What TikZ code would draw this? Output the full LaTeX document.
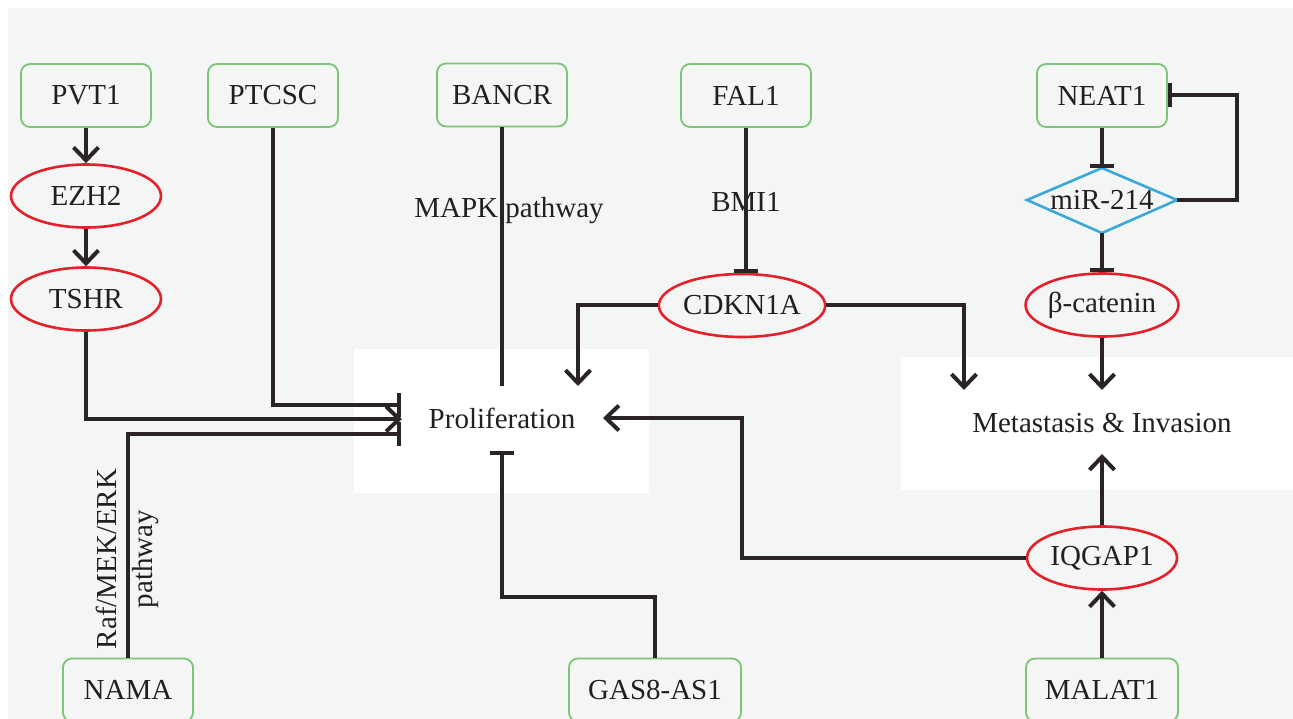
\documentclass[tikz,border=0pt]{standalone}
\usepackage{fontspec}
\setmainfont{Liberation Serif}
\usetikzlibrary{arrows.meta,shapes.geometric}
\definecolor{bgg}{HTML}{F4F6F5}
\definecolor{gbox}{HTML}{7CC576}
\definecolor{rell}{HTML}{E4202A}
\definecolor{bdia}{HTML}{3BA8DC}
\definecolor{ink}{HTML}{2A2425}
\definecolor{txt}{HTML}{231F20}
\begin{document}
\begin{tikzpicture}[x=1pt,y=-1pt,
 every node/.style={font=\fontsize{29}{36}\selectfont, text=txt},
 lncbox/.style={draw=gbox, line width=1.8pt, rounded corners=9pt, minimum width=130pt, minimum height=63pt, inner sep=0pt},
 gene/.style={draw=rell, ellipse, line width=2.6pt, minimum width=150pt, minimum height=63pt, inner sep=0pt},
 conn/.style={draw=ink, line width=4pt},
 act/.style={conn, -{Straight Barb[length=13pt,width=25pt]}},
 inh/.style={conn, -{Bar[width=24pt]}},
]
\useasboundingbox (0,0) rectangle (1293,719);
\fill[white] (0,0) rectangle (1293,719);
\fill[bgg] (8,8) rectangle (1293,719);
\fill[white] (354,349) rectangle (649,493);
\fill[white] (901,357) rectangle (1293,490);

% lncRNA boxes
\node[lncbox] (pvt1) at (86,95.5) {PVT1};
\node[lncbox] (ptcsc) at (273,95.5) {PTCSC};
\node[lncbox] (bancr) at (502,95) {BANCR};
\node[lncbox] (fal1) at (746,95.5) {FAL1};
\node[lncbox] (neat1) at (1102,95.5) {NEAT1};
\node[lncbox] (nama) at (128,690) {NAMA};
\node[lncbox, minimum width=172pt] (gas) at (655,690) {GAS8-AS1};
\node[lncbox, minimum width=152pt] (malat) at (1102,690) {MALAT1};

% genes
\node[gene] (ezh2) at (86,196) {EZH2};
\node[gene] (tshr) at (86,299) {TSHR};
\node[gene] (cdkn) at (742,305.5) {CDKN1A};
\node[gene] (beta) at (1102,305) {β-catenin};
\node[gene] (iqgap) at (1102,558) {IQGAP1};

% miR-214 diamond
\coordinate (mirW) at (1027,200);
\coordinate (mirN) at (1102,168);
\coordinate (mirE) at (1177,200);
\coordinate (mirS) at (1102,233);
\draw[bdia, line width=2.6pt] (mirW) -- (mirN) -- (mirE) -- (mirS) -- cycle;
\node (mir) at (1102,200) {miR-214};

% outcomes
\node (prolif) at (502,418) {Proliferation};
\node (meta) at (1102,423) {Metastasis \& Invasion};

% labels
\node (mapk) at (509,211) {MAPK pathway};
\node (bmi) at (746,202) {BMI1};
\node[rotate=90, align=center, font=\fontsize{29}{36}\selectfont] (raf) at (127,559) {Raf/MEK/ERK\\pathway};

% anchor points
\coordinate (pin1) at (401,405);
\coordinate (pin2) at (402,419);
\coordinate (pin3) at (401,434);
\coordinate (ptop) at (502,386);
\coordinate (pbot) at (502,451);
\coordinate (pin4) at (578,386);
\coordinate (pright) at (603,418);
\coordinate (gturn) at (655,597);
\coordinate (iturn) at (742,558);
\coordinate (min1) at (964,390);
\coordinate (min2) at (1102,390);
\coordinate (min3) at (1102,454);
\coordinate (nturn) at (1237,200);

% connectors
\draw[act] (pvt1) -- (ezh2);
\draw[act] (ezh2) -- (tshr);
\draw[act] (tshr.south) |- (pin2);
\draw[inh] (ptcsc.south) |- (pin1);
\draw[inh] (nama.north) |- (pin3);
\draw[conn] (bancr.south) -- (ptop);
\draw[inh] (gas.north) -- (gturn) -| (pbot);
\draw[inh] (fal1.south) -- (fal1.south |- cdkn.north);
\draw[act] (cdkn.west) -| (pin4);
\draw[act] (cdkn.east) -| (min1);
\draw[act] (iqgap.west) -- (iturn) |- (pright);
\draw[inh] (neat1.south) -- (mirN);
\draw[inh] (mirS) -- (beta.north);
\draw[inh] (mirE) -- (nturn) |- (neat1.east);
\draw[act] (beta.south) -- (min2);
\draw[act] (iqgap.north) -- (min3);
\draw[act] (malat.north) -- (iqgap.south);
\end{tikzpicture}
\end{document}
